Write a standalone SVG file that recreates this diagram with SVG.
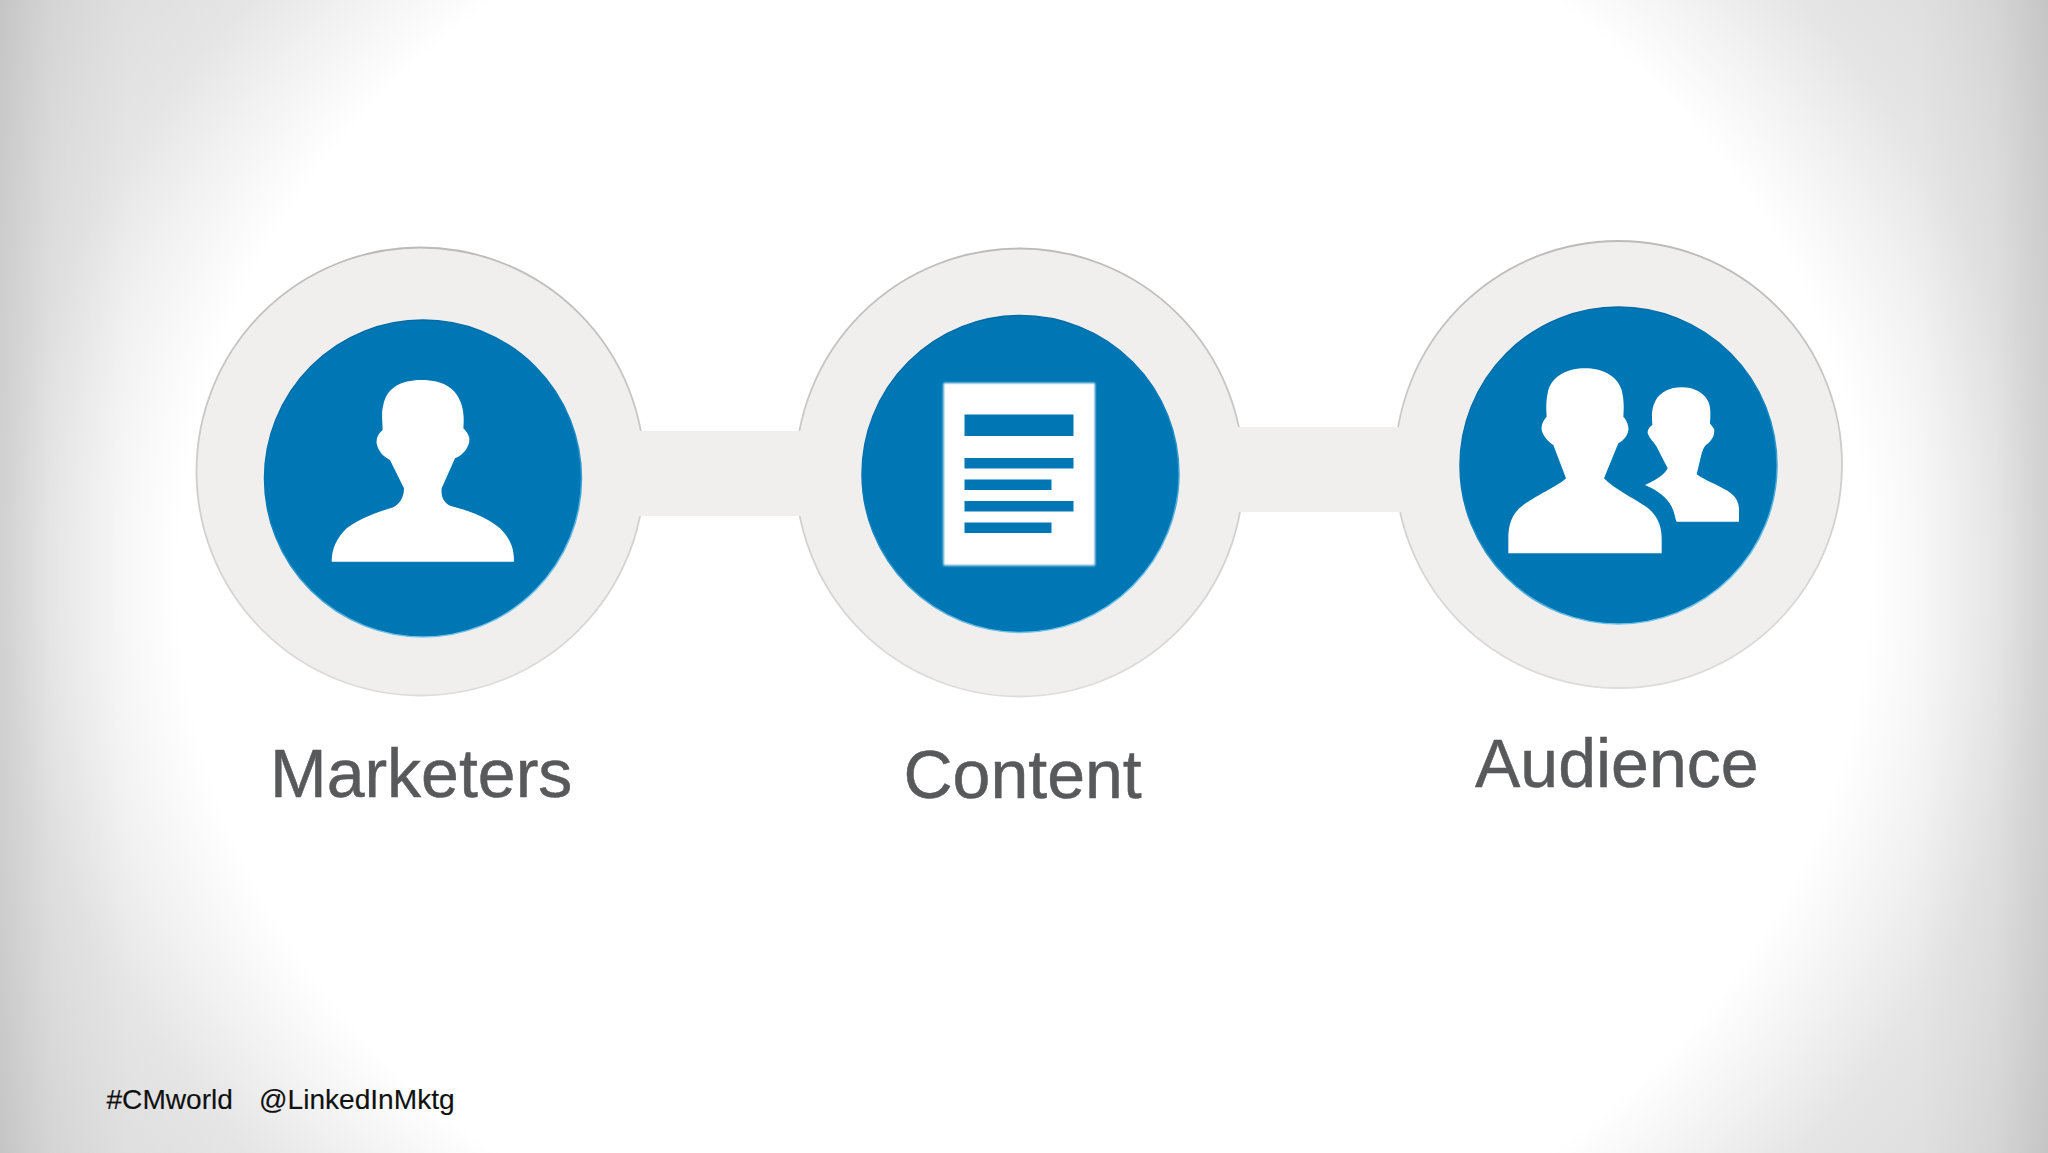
<svg xmlns="http://www.w3.org/2000/svg" width="2048" height="1153" viewBox="0 0 2048 1153">
<style>
.ring{fill:#f1efee;stroke:url(#rim);stroke-width:1.8;filter:url(#soft)}
.disc{fill:#0077b5;stroke:url(#halo);stroke-width:1.5}
.icon{fill:#fff;filter:url(#softer)}
.hole{fill:#0077b5;filter:url(#soft)}
.bar{fill:#f1efee}
.edgeT{stroke:#bfbdbb;stroke-width:1.8;fill:none;filter:url(#soft)}
.edgeB{stroke:#d6d4d2;stroke-width:1.8;fill:none;filter:url(#soft)}
.label{font-family:"Liberation Sans",Arial,sans-serif;font-size:68px;fill:#58595b;stroke:#58595b;stroke-width:.5}
.foot{font-family:"Liberation Sans",Arial,sans-serif;font-size:28.1px;fill:#111;stroke:#111;stroke-width:.15}
</style>
<defs>
<radialGradient id="bg" gradientUnits="userSpaceOnUse" cx="0" cy="0" r="1224" gradientTransform="translate(1024 576) scale(1 .87)">
<stop offset="0" stop-color="#fff"/><stop offset=".69" stop-color="#fff"/><stop offset=".76" stop-color="#f3f3f3"/><stop offset=".835" stop-color="#e5e5e5"/><stop offset="1" stop-color="#d8d8d8"/>
</radialGradient>
<linearGradient id="sideL" x1="0" y1="0" x2="1" y2="0"><stop offset="0" stop-color="#000" stop-opacity=".09"/><stop offset=".4" stop-color="#000" stop-opacity=".03"/><stop offset="1" stop-color="#000" stop-opacity="0"/></linearGradient>
<linearGradient id="sideR" x1="1" y1="0" x2="0" y2="0"><stop offset="0" stop-color="#000" stop-opacity=".09"/><stop offset=".4" stop-color="#000" stop-opacity=".03"/><stop offset="1" stop-color="#000" stop-opacity="0"/></linearGradient>
<linearGradient id="rim" x1="0" y1="0" x2="0" y2="1"><stop offset="0" stop-color="#bdbbb9"/><stop offset=".6" stop-color="#d2d0ce"/><stop offset="1" stop-color="#dedcda"/></linearGradient>
<linearGradient id="halo" x1="0" y1="0" x2=".4" y2="1"><stop offset="0" stop-color="#00639c"/><stop offset=".5" stop-color="#0077b5"/><stop offset="1" stop-color="#6fc3ea"/></linearGradient>
<filter id="soft" x="-5%" y="-5%" width="110%" height="110%"><feGaussianBlur stdDeviation=".7"/></filter>
<filter id="softer" x="-5%" y="-5%" width="110%" height="110%"><feGaussianBlur stdDeviation="1.3"/></filter>
</defs>
<g id="background">
<rect width="2048" height="1153" fill="url(#bg)"/>
<rect width="130" height="1153" fill="url(#sideL)"/>
<rect x="1918" width="130" height="1153" fill="url(#sideR)"/>
</g>
<g id="node-marketers">
<circle class="ring" cx="420.5" cy="471.5" r="224"/>
<circle class="disc" cx="423" cy="478.5" r="158.5"/>
<path class="icon" transform="translate(180 230) scale(.33333)" d="M455,995 L1002,995 C1002,960 995,930 960,895 C920,860 860,840 812,828 C792,818 782,800 785,775 L825,685 C850,675 870,650 868,625 C865,610 855,600 850,595 C852,570 852,550 845,525 C830,475 790,450 725,450 C660,450 620,475 610,525 C603,550 608,580 608,600 C595,610 588,625 590,640 C595,665 610,680 630,690 L672,775 C672,800 662,820 640,832 C590,848 540,865 500,895 C470,925 455,955 455,995 Z"/>
<text class="label" x="270" y="797">Marketers</text>
</g>
<g id="node-content">
<circle class="ring" cx="1019.5" cy="472.5" r="224"/>
<circle class="disc" cx="1020.5" cy="474" r="158.5"/>
<rect class="icon" x="943.5" y="383" width="151.5" height="182.5"/>
<rect class="hole" x="964.5" y="414.5" width="109" height="21.5"/>
<rect class="hole" x="964.5" y="458" width="109" height="10.5"/>
<rect class="hole" x="964.5" y="479.5" width="87" height="10.5"/>
<rect class="hole" x="964.5" y="501" width="109" height="10.5"/>
<rect class="hole" x="964.5" y="522.5" width="87" height="10.5"/>
<text class="label" x="903.5" y="798">Content</text>
</g>
<g id="node-audience">
<circle class="ring" cx="1618.5" cy="464.5" r="223.5"/>
<circle class="disc" cx="1618.5" cy="465.5" r="158.5"/>
<g transform="translate(1380 230) scale(.33333)">
<path class="icon" d="M385,970 L845,970 L845,925 C845,880 825,845 790,825 C760,805 700,775 672,745 L715,640 C735,630 748,610 745,590 C742,575 735,565 730,560 C732,530 732,510 725,480 C710,435 665,415 615,415 C565,415 520,435 505,480 C498,510 498,530 500,560 C490,570 483,585 485,600 C490,620 505,635 520,645 L558,745 C540,765 480,790 430,825 C395,850 385,885 385,925 Z"/>
<path class="icon" d="M890,875 L1077,875 L1077,835 C1075,800 1050,785 1020,770 C995,758 965,745 950,733 L965,670 C970,655 975,645 985,640 C1000,625 1005,610 1002,597 C998,590 992,585 990,580 C992,550 992,530 985,515 C970,485 940,472 905,472 C870,472 840,485 825,515 C815,535 815,555 817,585 C808,590 802,600 803,610 C808,625 820,635 830,650 L863,715 C855,730 840,745 795,765 C830,780 860,800 875,830 C885,850 885,865 890,875 Z"/>
</g>
<text class="label" x="1475" y="786.5">Audience</text>
</g>
<g id="connectors">
<g id="connector-marketers-content">
<rect class="bar" x="634" y="431" width="172" height="85"/>
<path class="edgeT" d="M642,431 H798"/>
<path class="edgeB" d="M642,516 H798"/>
</g>
<g id="connector-content-audience">
<rect class="bar" x="1233" y="427" width="172" height="85"/>
<path class="edgeT" d="M1241,427 H1397"/>
<path class="edgeB" d="M1241,512 H1397"/>
</g>
</g>
<g id="footer">
<text class="foot" x="106.5" y="1109">#CMworld</text>
<text class="foot" x="259" y="1109">@LinkedInMktg</text>
</g>
</svg>
